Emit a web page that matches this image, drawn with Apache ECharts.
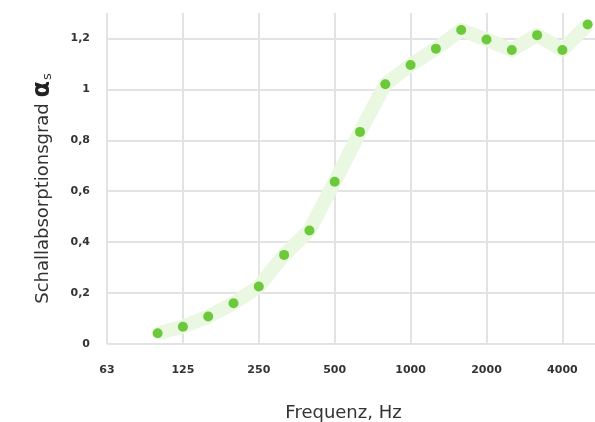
<!DOCTYPE html>
<html>
<head>
<meta charset="utf-8">
<script src="https://cdn.jsdelivr.net/npm/echarts@6/dist/echarts.min.js"></script>
<style>
  html, body { margin: 0; padding: 0; background: #fff; }
  #chart { width: 595px; height: 422px; }
</style>
</head>
<body>
<div id="chart"></div>
<script>
// third-octave bands, labels only on octaves
var bands = ['63','80','100','125','160','200','250','315','400','500','630','800',
             '1000','1250','1600','2000','2500','3150','4000','5000','6300'];
var alpha = [null, null, 0.042, 0.068, 0.108, 0.16, 0.226, 0.35, 0.446, 0.637, 0.833, 1.02,
             1.096, 1.16, 1.233, 1.196, 1.155, 1.213, 1.155, 1.255, null];

var chart = echarts.init(document.getElementById('chart'));
var option = {
    animation: false,
    grid: {
        left: 107,
        width: 506,
        top: 13,
        bottom: 78,
        outerBoundsMode: 'none'
    },
    xAxis: {
        type: 'category',
        data: bands,
        boundaryGap: false,
        name: 'Frequenz, Hz',
        nameLocation: 'middle',
        nameGap: 60,
        nameTextStyle: {
            fontFamily: 'DejaVu Sans',
            fontSize: 18,
            color: '#333',
            padding: [0, 33, 0, 0]
        },
        axisLine: { show: false },
        axisTick: { show: false },
        axisLabel: {
            interval: 2,
            margin: 21,
            fontFamily: 'DejaVu Sans',
            fontWeight: 'bold',
            fontSize: 11,
            color: '#333'
        },
        splitLine: {
            show: true,
            interval: 2,
            lineStyle: { color: '#e3e3e3', width: 2 }
        }
    },
    yAxis: {
        type: 'value',
        min: 0,
        max: 1.3,
        interval: 0.2,
        name: '{t|Schallabsorptionsgrad }{a|α}{s|s}',
        nameLocation: 'middle',
        nameGap: 52,
        nameTextStyle: {
            padding: [0, 20, 0, 0],
            rich: {
                t: { fontFamily: 'DejaVu Sans', fontSize: 18, color: '#333' },
                a: { fontFamily: 'DejaVu Sans', fontSize: 24, fontWeight: 'bold', color: '#222' },
                s: { fontFamily: 'DejaVu Sans', fontSize: 13, color: '#333', padding: [9, 0, 0, 1] }
            }
        },
        axisLine: { show: false },
        axisTick: { show: false },
        axisLabel: {
            margin: 17,
            showMaxLabel: false,
            fontFamily: 'DejaVu Sans',
            fontWeight: 'bold',
            fontSize: 11,
            color: '#333',
            formatter: function (v) {
                return String(Math.round(v * 10) / 10).replace('.', ',');
            }
        },
        splitLine: {
            show: true,
            showMaxLine: false,
            lineStyle: { color: '#e3e3e3', width: 2 }
        }
    },
    series: [
        {
            type: 'line',
            data: alpha,
            symbol: 'circle',
            symbolSize: 10,
            itemStyle: { color: '#6cc93c', borderWidth: 0 },
            lineStyle: { color: '#eaf7e1', width: 14, join: 'round' },
            z: 3
        }
    ]
};
chart.setOption(option);
window.onresize = chart.resize;
</script>
</body>
</html>
